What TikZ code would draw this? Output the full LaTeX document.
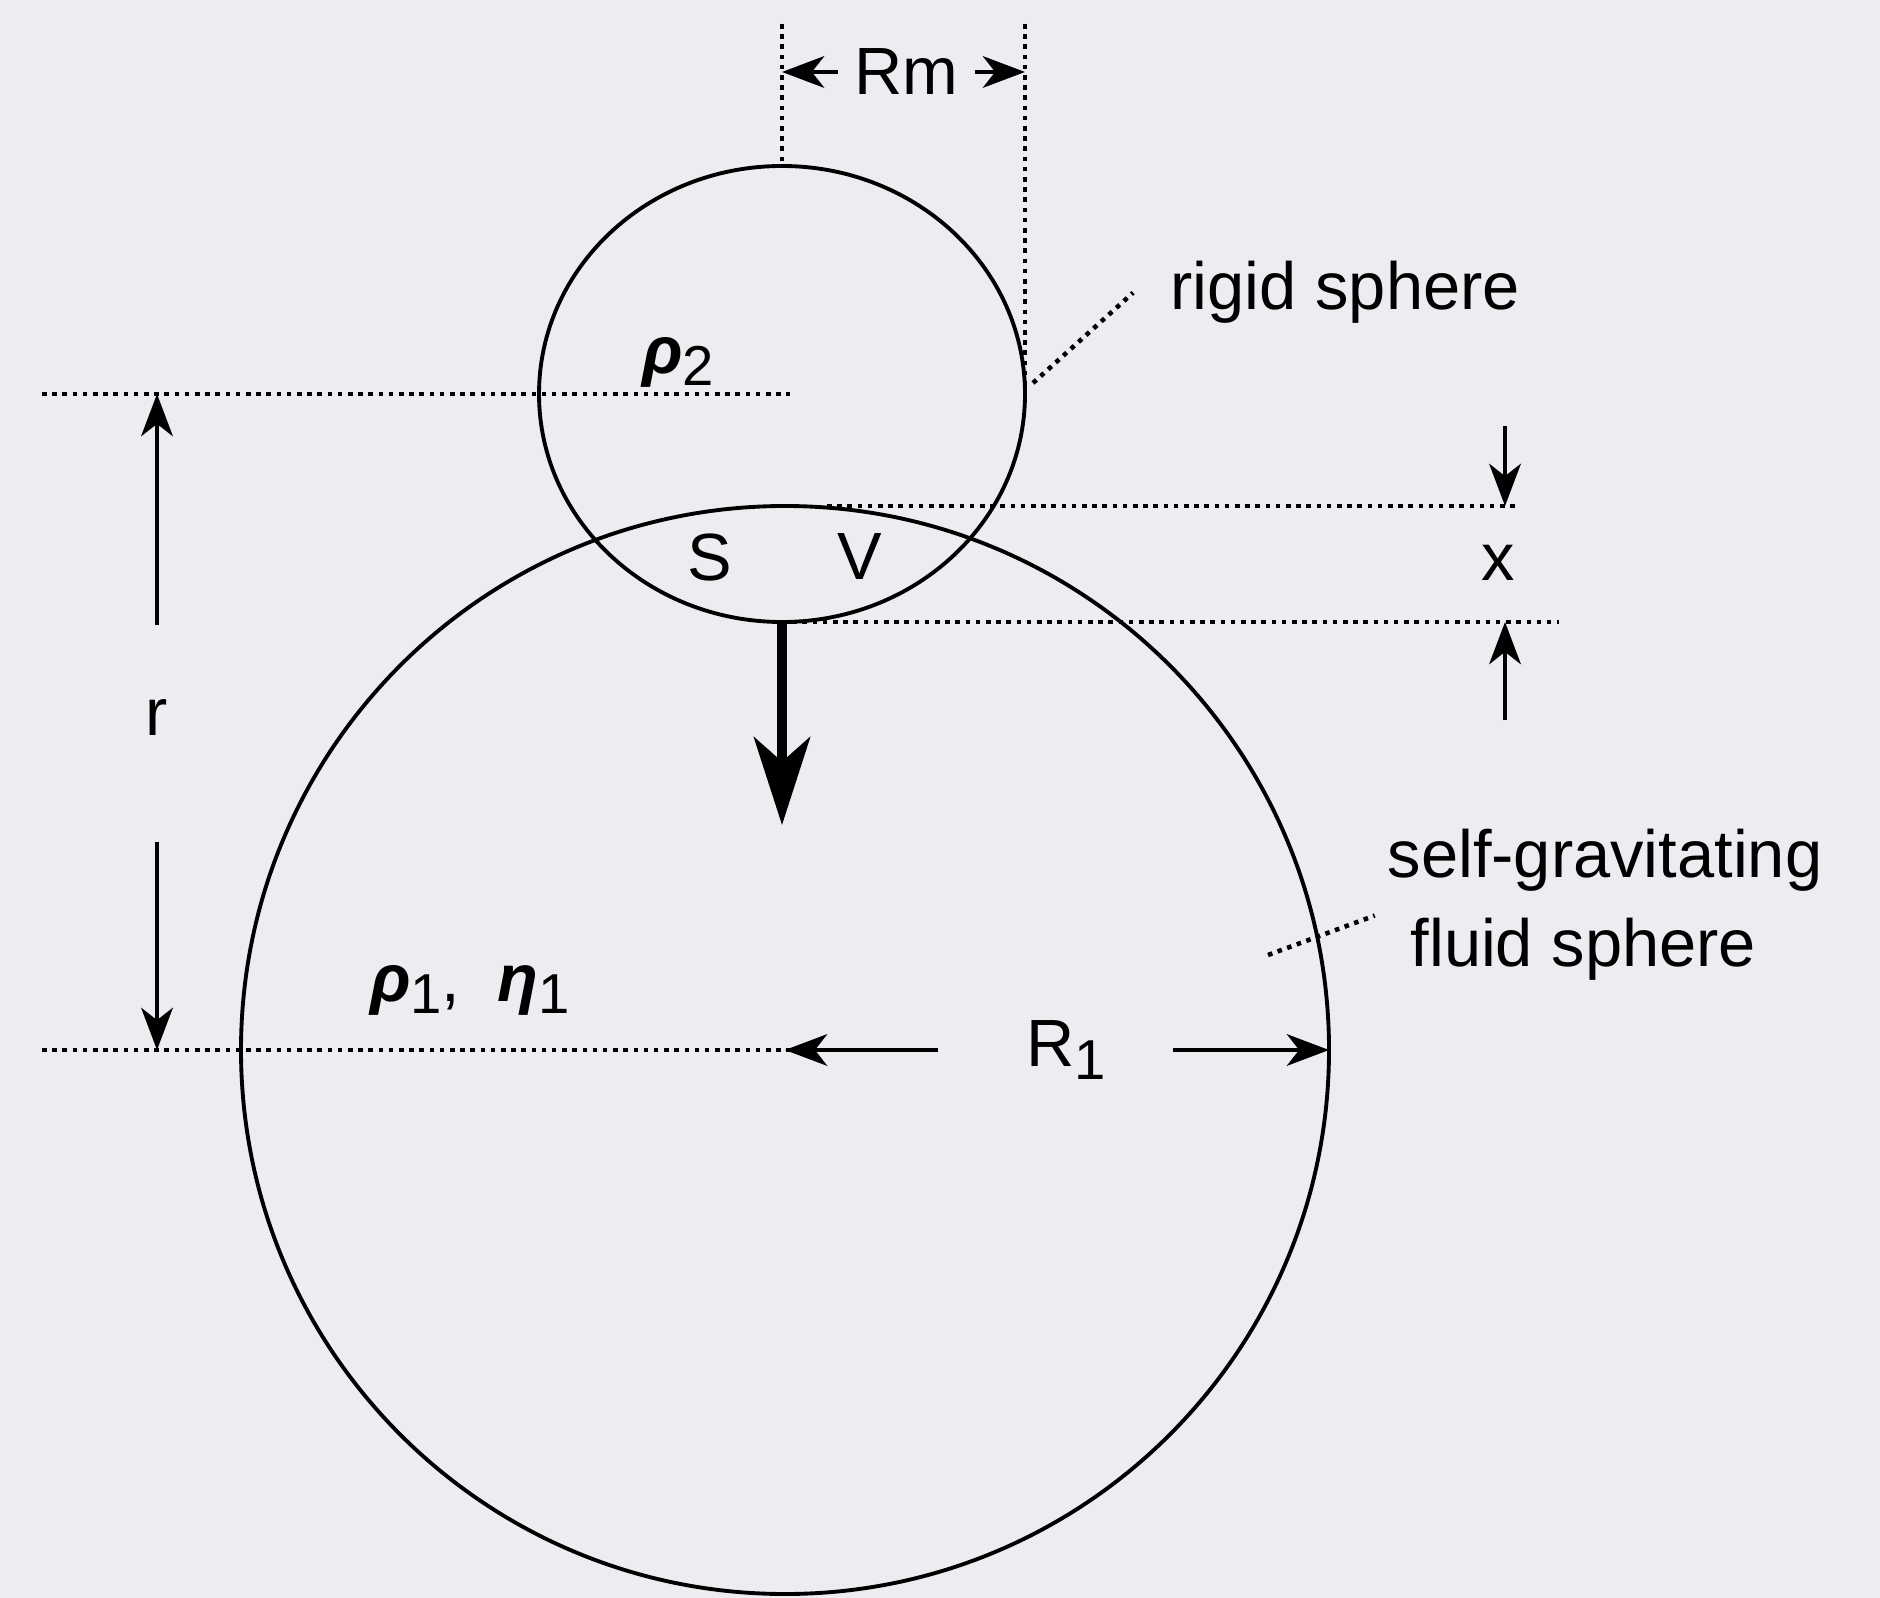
\documentclass[tikz,border=0pt]{standalone}
\usepackage{fontspec}
\setmainfont{Liberation Sans}
\usetikzlibrary{arrows.meta}
\definecolor{paper}{RGB}{238,236,240}
\newcommand\lowidx[1]{\raisebox{-0.35ex}{\fontsize{16}{16}\selectfont #1}}

\begin{document}
\begin{tikzpicture}[x=0.01cm,y=-0.01cm,
  every node/.style={inner sep=0pt,font=\fontsize{19}{25.3}\selectfont},
  dim/.style={line width=1.1pt,-{Stealth[length=12pt,width=9pt,inset=3.5pt]}},
  dots/.style={line width=1.3pt,dash pattern=on 1.3pt off 1.6pt},
  rim/.style={line width=1.1pt}]
\fill[paper] (0,0) rectangle (1880,1598);
\useasboundingbox (0,0) rectangle (1880,1598);
% spheres
\coordinate (c2) at (782,394);
\coordinate (c1) at (785,1050);
\draw[rim] (c2) ellipse [x radius=243,y radius=228];
\draw[rim] (c1) circle [radius=544];
% guide lines
\coordinate (top2) at (782,166);
\coordinate (east2) at (1025,394);
\coordinate (east1) at (1329,1050);
\coordinate (bot2) at (782,622);
\coordinate (top1) at (827,506);
\coordinate (lineA) at (42,394);
\coordinate (lineB) at (42,1050);
\draw[dots] (782,24) -- (top2);
\draw[dots] (1025,24) -- (east2);
\draw[dots] (lineA) -- (790,394);
\draw[dots] (lineB) -- (790,1050);
\draw[dots] (top1) -- (1517,506);
\draw[dots] (bot2) -- (1559,622);
% labels
\node[inner xsep=4.5pt] (Rm) at (906,72) {Rm};
\node (R1) at (1066,1050) {R\lowidx{1}};
\node (r) at (157,718) {r};
\node (x) at (1498,563) {x};
\node (S) at (710,557) {S};
\node (V) at (860,557) {V};
\node (rho2) at (678,362) {{\bfseries\itshape ρ}\lowidx{2}};
\node (rho1) at (470,990) {{\bfseries\itshape ρ}\lowidx{1},\ \ {\bfseries\itshape η}\lowidx{1}};
\node[anchor=base west] (rigid) at (1170,310) {rigid sphere};
\node[anchor=west,align=left] (fluid) at (1387,905) {self-gravitating\\\hspace*{6.5pt}fluid sphere};
% dimensions
\draw[dim] (Rm.west) -- (Rm.west -| top2);
\draw[dim] (Rm.east) -- (Rm.east -| east2);
\draw[dim] ([xshift=-25pt]R1.west) -- (c1);
\draw[dim] ([xshift=19pt]R1.east) -- (east1);
\draw[dim] ([yshift=21pt]r.north) -- (r.north |- lineA);
\draw[dim] ([yshift=-30pt]r.south) -- (r.south |- lineB);
\coordinate (xa) at (1505,426);
\coordinate (xb) at (1505,720);
\draw[dim] (xa) -- (xa |- top1);
\draw[dim] (xb) -- (xb |- bot2);
\coordinate (fall) at (782,825);
\draw[line width=2.6pt,-{Stealth[length=25pt,width=16pt,inset=7pt]}] (bot2) -- (fall);
% leaders
\coordinate (lead2) at (1033,383);
\coordinate (lead1) at (1268,955);
\draw[dots] (lead2) -- ([xshift=-10.5pt]rigid.west);
\draw[dots] (lead1) -- ([xshift=-3.5pt,yshift=-3pt]fluid.west);
\end{tikzpicture}
\end{document}
